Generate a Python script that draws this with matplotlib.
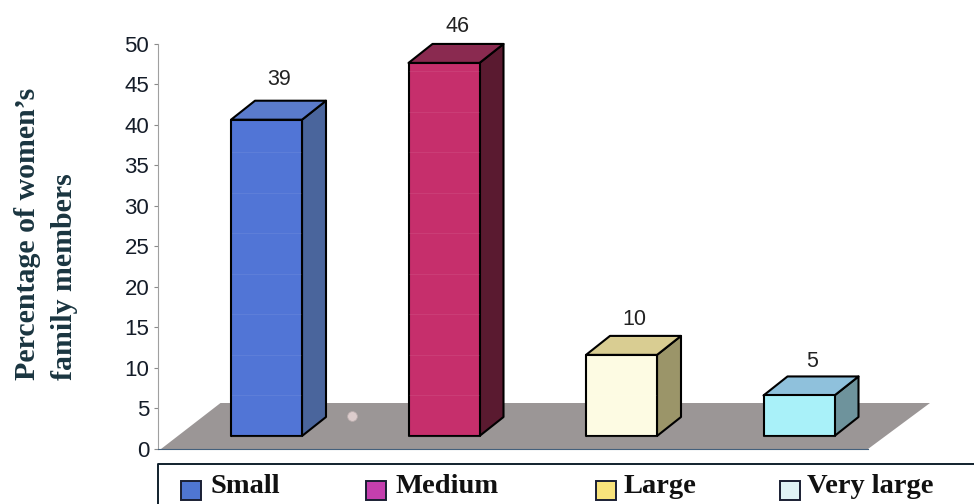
import matplotlib
matplotlib.use("Agg")
import matplotlib.pyplot as plt
from matplotlib.patches import Polygon, Rectangle

categories = ["Small", "Medium", "Large", "Very large"]
percent = [39, 46, 10, 5]
yticks = [0, 5, 10, 15, 20, 25, 30, 35, 40, 45, 50]

front_colors = ["#5175d6", "#c62f6c", "#fdfbe3", "#a9f1f9"]
side_colors = ["#4a659c", "#5a1a30", "#9b9569", "#6e939c"]
top_colors = ["#5a7bcc", "#8a2a50", "#d9cd92", "#8fc1dc"]
legend_colors = ["#4f76d2", "#c43fae", "#f8e37c", "#e0f3f6"]

W, H = 974, 504
fig = plt.figure(figsize=(W / 100, H / 100), dpi=100, facecolor="white")

# axes box in pixels
left, right, top, bottom = 157.5, 868, 43.5, 449
ax = fig.add_axes([left / W, 1 - bottom / H, (right - left) / W, (bottom - top) / H])

px_x = 177.5  # pixels per category
px_y = (bottom - top) / 50
ax.set_xlim((left - 266.5) / px_x, (right - 266.5) / px_x)
ax.set_ylim(0, 50)

# fake 3d offsets, data units
bar_w = 71 / px_x
dx = 24 / px_x
dy = 19 / px_y
lift = 13 / px_y
label_gap = [21 / px_y, 17 / px_y, 16 / px_y, 15 / px_y]

# floor
x0, x1 = ax.get_xlim()
floor = Polygon([(x0 + 3.5 / px_x, 0), (x1, 0), (x1 + 62 / px_x, 46 / px_y),
                 (x0 + 63 / px_x, 46 / px_y)],
                closed=True, fc="#9b9696", ec="none", zorder=1, clip_on=False)
ax.add_patch(floor)
ax.scatter([(352 - 266.5) / px_x], [(bottom - 416) / px_y], s=50, marker="o",
           color="#dccccc", edgecolors="#b8acac", linewidths=0.6, zorder=2)

# one box per category
for i, v in enumerate(percent):
    xl = i - bar_w / 2
    xr = i + bar_w / 2
    b = lift
    t = lift + v
    style = dict(closed=True, ec="black", lw=1.5, joinstyle="round", clip_on=False, zorder=3)
    ax.add_patch(Polygon([(xr, b), (xr + dx, b + dy), (xr + dx, t + dy), (xr, t)],
                         fc=side_colors[i], **style))
    ax.add_patch(Polygon([(xl, t), (xr, t), (xr + dx, t + dy), (xl + dx, t + dy)],
                         fc=top_colors[i], **style))
    ax.add_patch(Polygon([(xl, b), (xr, b), (xr, t), (xl, t)],
                         fc=front_colors[i], **style))
    # faint gridlines showing through the front face
    for g in yticks:
        if b + g + 0.5 < t:
            ax.plot([xl + 0.005, xr - 0.005], [b + g, b + g], color="white", lw=0.8,
                    alpha=0.07, zorder=4)
    ax.text(i + dx / 2 + 1 / px_x, t + dy + label_gap[i], str(v), ha="center", va="center",
            family="Liberation Sans", fontsize=15.5, color="#222222", zorder=5)

ax.set_yticks(yticks)
ax.set_xticks([])
ax.tick_params(axis="y", length=3, width=0.8, color="#8a8a8a", pad=3, labelsize=16,
               labelcolor="#141c28")
for lab in ax.get_yticklabels():
    lab.set_family("Liberation Sans")
ax.patch.set_visible(False)
for s in ["top", "right"]:
    ax.spines[s].set_visible(False)
ax.spines["left"].set_color("#a0a0a0")
ax.spines["left"].set_linewidth(0.8)
ax.spines["bottom"].set_color("#44607c")
ax.spines["bottom"].set_linewidth(0.8)
ax.spines["bottom"].set_bounds(x0, x1)

# axis title, two rotated lines sharing a lower end
title_style = dict(rotation=90, ha="center", va="bottom", family="Liberation Serif",
                   fontweight="bold", color="#1a3540", fontsize=21.5)
fig.text(28 / W, 1 - 380 / H, "Percentage of women\u2019s", **title_style)
fig.text(65 / W, 1 - 380 / H, "family members", **title_style)

# legend strip, runs off the bottom right
fig.add_artist(plt.Line2D([158 / W, 158 / W, 1], [0, 1 - 464 / H, 1 - 464 / H],
                          color="#10202c", lw=1.4, transform=fig.transFigure))
key_x = [181, 366, 596, 780]
text_x = [211, 396, 624, 807]
for name, col, kx, tx in zip(categories, legend_colors, key_x, text_x):
    fig.add_artist(Rectangle((kx / W, 1 - 500 / H), 20 / W, 19 / H, fc=col, ec="#1a1f33",
                             lw=1.4, transform=fig.transFigure))
    fig.text(tx / W, 1 - 493 / H, name, ha="left", va="baseline", family="Liberation Serif",
             fontweight="bold", fontsize=20.5, color="#111111")

fig.savefig("out.png", dpi=100, facecolor="white")
